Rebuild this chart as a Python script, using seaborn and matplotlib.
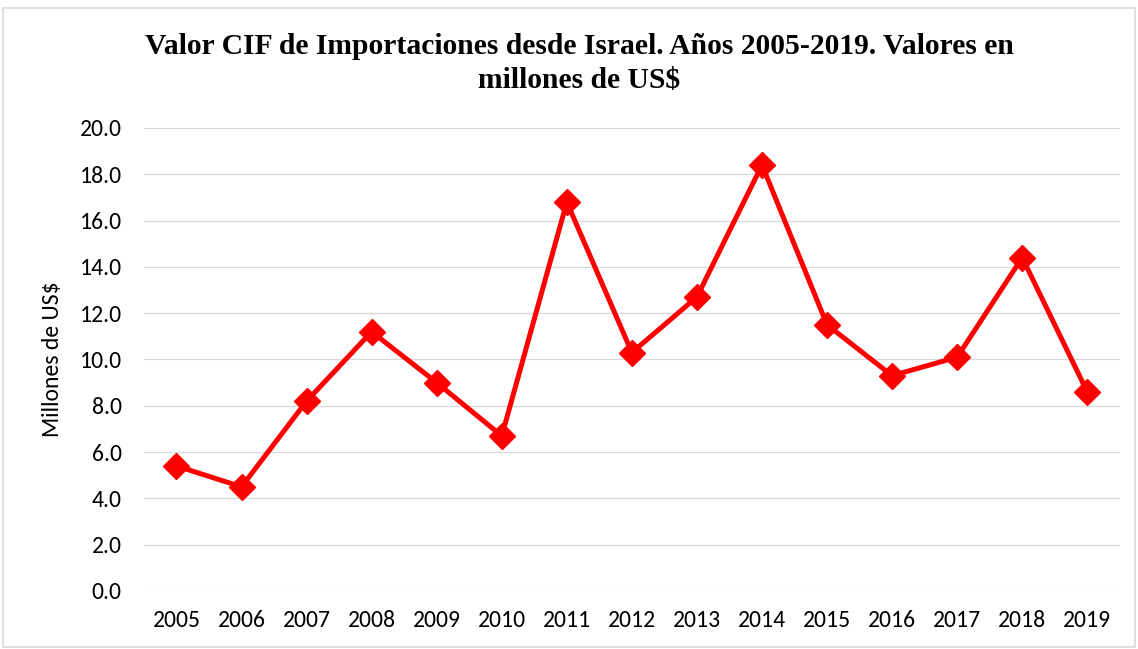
import pandas as pd
import matplotlib.pyplot as plt
import seaborn as sns
from matplotlib.patches import Rectangle

# datos del gráfico
anios = [2005, 2006, 2007, 2008, 2009, 2010, 2011, 2012, 2013, 2014, 2015, 2016, 2017, 2018, 2019]
valores = [5.4, 4.5, 8.2, 11.2, 9.0, 6.7, 16.8, 10.3, 12.7, 18.4, 11.5, 9.3, 10.1, 14.4, 8.6]
titulo = 'Valor CIF de Importaciones desde Israel. Años 2005-2019. Valores en\nmillones de US$'
etiqueta_y = 'Millones de US$'

df = pd.DataFrame({'anio': anios, 'valor': valores})

sns.set_style('whitegrid')
plt.rcParams['font.family'] = ['Carlito', 'Liberation Sans', 'DejaVu Sans']

fig = plt.figure(figsize=(11.38, 6.49), dpi=100)
ax = fig.add_axes([0.1265, 0.0894, 0.8575, 0.7134])

sns.lineplot(data=df, x='anio', y='valor', ax=ax, color='#ff0000', linewidth=3.6,
             marker='D', markersize=13.5, markeredgecolor='#ff0000', markeredgewidth=1)

ax.set_xlim(2004.5, 2019.5)
ax.set_ylim(0, 20)
ax.set_xticks(anios)
ax.set_xticklabels([str(a) for a in anios])
ax.set_yticks([i * 2 for i in range(11)])
ax.set_yticklabels(['%.1f' % (i * 2) for i in range(11)])

ax.grid(axis='y', color='#d9d9d9', linewidth=0.9)
ax.grid(axis='x', visible=False)
for s in ax.spines.values():
    s.set_visible(False)
ax.tick_params(axis='both', length=0, labelsize=17, colors='#000000')
ax.tick_params(axis='x', pad=14)
ax.tick_params(axis='y', pad=16)

ax.set_xlabel('')
ax.set_ylabel(etiqueta_y, fontsize=17, labelpad=12, color='#000000')

fig.text(0.509, 0.902, titulo, ha='center', va='center', fontsize=21.3, fontweight='bold',
         family=['Liberation Serif', 'DejaVu Serif'], linespacing=1.3, color='#000000')

# borde exterior
fig.patches.append(Rectangle((0.003, 0.003), 0.994, 0.985, transform=fig.transFigure,
                             fill=False, edgecolor='#d9d9d9', linewidth=1.2))

fig.savefig('out.png', dpi=100)
